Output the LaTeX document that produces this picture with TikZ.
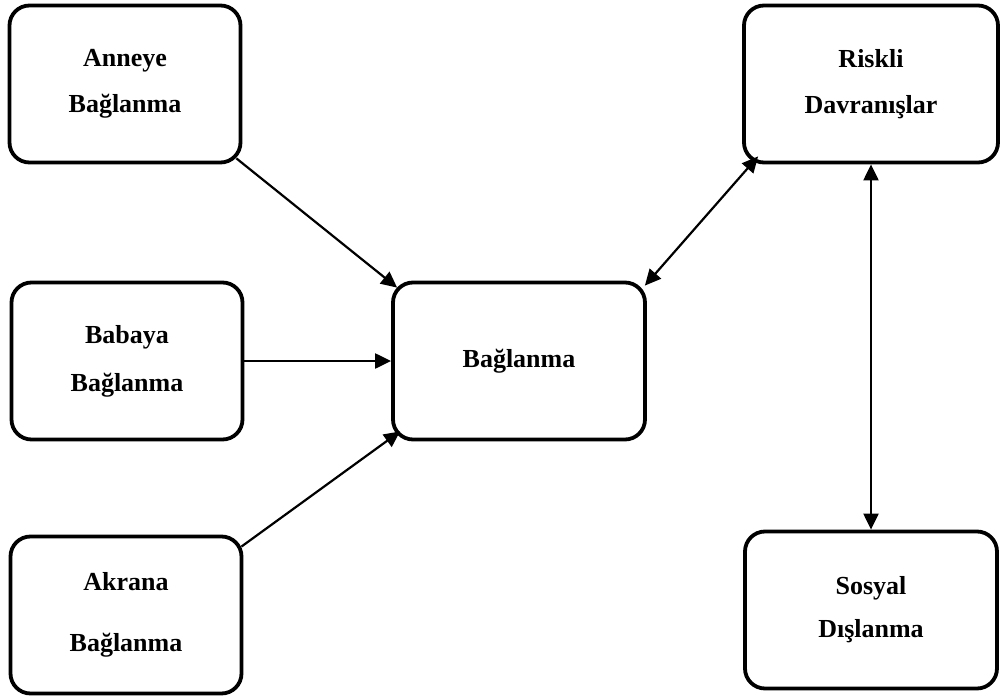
\documentclass[tikz,border=0pt]{standalone}
\usepackage{fontspec}
\setmainfont{Liberation Serif}
\usetikzlibrary{calc,arrows.meta}

\begin{document}
\begin{tikzpicture}[x=1pt,y=-1pt,
		kutu/.style={draw,line width=3.8pt,rounded corners=20pt,minimum width=231pt,minimum height=157pt,align=center,font=\fontsize{26}{46}\selectfont\bfseries},
		ok/.style={line width=2.2pt,-{Triangle[length=16pt,width=15pt]}},
		ciftok/.style={line width=2.2pt,{Triangle[length=16pt,width=15pt]}-{Triangle[length=16pt,width=15pt]}}]
		\useasboundingbox (0,0) rectangle (1002,696);
		\node[kutu] (anne) at (125,84) {Anneye\\Bağlanma};
		\node[kutu] (baba) at (127,361) {Babaya\\[2pt]Bağlanma};
		\node[kutu] (akran) at (126,615) {Akrana\\[15pt]Bağlanma};
		\node[kutu,minimum width=252pt] (bag) at (519,361) {Bağlanma};
		\node[kutu,minimum width=254pt] (risk) at (871,84) {Riskli\\Davranışlar};
		\node[kutu,minimum width=252pt] (sosyal) at (871,610) {Sosyal\\[-3pt]Dışlanma};
		\draw[ok] ($(anne.south east)+(-6,-6)$) -- ($(bag.north west)+(6,7)$);
		\draw[ok] (baba.east) -- (bag.west);
		\draw[ok] ($(akran.north east)+(-2,12)$) -- ($(bag.south west)+(9,-10)$);
		\draw[ciftok] ($(bag.north east)+(-2,5)$) -- ($(risk.south west)+(16,-8)$);
		\draw[ciftok] (risk.south) -- (sosyal.north);
	\end{tikzpicture}
\end{document}
